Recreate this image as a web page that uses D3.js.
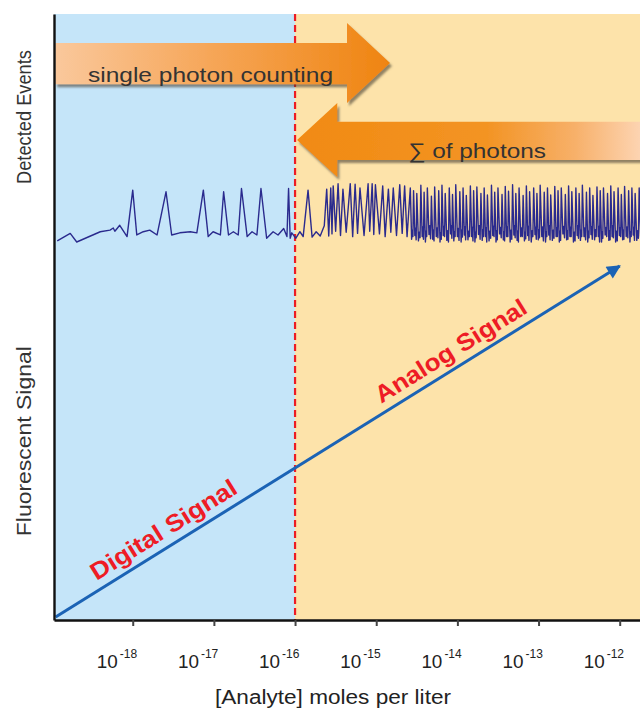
<!DOCTYPE html>
<html><head><meta charset="utf-8">
<script src="https://cdn.jsdelivr.net/npm/d3@7"></script>
<style>body{margin:0;background:#fff;} svg{display:block;font-family:"Liberation Sans",Arial,sans-serif;}</style>
</head><body><svg id="c" width="640" height="711"></svg>
<script>
// ---------- data ----------
const tickExponents = [-18, -17, -16, -15, -14, -13, -12];
const xDomainLog = [-18.97, -11.75];
const regionSplit = -16;               // digital | analog boundary (log10 mol/L)
const signalLine = [[-18.95, 0.05], [-12.0, 5.9]];   // [log10 conc, fluorescent signal]
const digitalLabel = { text: "Digital Signal", at: -17.51 };
const analogLabel  = { text: "Analog Signal",  at: -13.97 };
const arrowTexts = ["single photon counting", "\u2211 of photons"];
const axisTitles = { x: "[Analyte] moles per liter", yTop: "Detected Events", yBottom: "Fluorescent Signal" };
// detected-events trace: [log10 conc, relative event height]
const traceBlue = [
 [-18.93,0.02],[-18.77,0.16],[-18.69,0.0],[-18.40,0.19],[-18.28,0.22],[-18.24,0.26],[-18.22,0.20],[-18.16,0.31],
 [-18.07,0.10],[-18.00,0.96],[-17.95,0.13],[-17.87,0.19],[-17.79,0.22],[-17.70,0.13],[-17.59,0.93],[-17.52,0.13],
 [-17.42,0.17],[-17.29,0.19],[-17.21,0.17],[-17.13,0.96],[-17.07,0.10],[-17.01,0.19],[-16.92,0.13],[-16.88,0.93],
 [-16.82,0.13],[-16.76,0.19],[-16.70,0.13],[-16.66,0.99],[-16.59,0.10],[-16.53,0.19],[-16.47,0.13],[-16.42,0.99],
 [-16.35,0.07],[-16.27,0.19],[-16.21,0.13],[-16.14,0.25],[-16.10,0.10],[-16.08,0.99],[-16.06,0.07],[-16.04,0.17],
 [-15.99,0.07]
];
const traceSparse = [
 [-15.94,0.19],[-15.90,0.10],[-15.84,0.96],[-15.79,0.09],[-15.74,0.19],[-15.69,0.11],[-15.64,0.30],[-15.61,0.98],
 [-15.585,0.11],[-15.56,1.0],[-15.545,0.15],[-15.53,1.04],[-15.50,0.2],[-15.47,1.08],[-15.44,0.12],[-15.41,0.98],
 [-15.37,0.18],[-15.32,1.08],[-15.29,0.1],[-15.26,1.07],[-15.23,0.16],[-15.20,1.0],[-15.15,0.12],[-15.10,1.08],
 [-15.08,0.2],[-15.05,1.08],[-15.03,0.14],[-15.01,1.06],[-14.96,0.15],[-14.92,1.04],[-14.89,0.1],[-14.85,0.98],
 [-14.82,0.18],[-14.79,1.0],[-14.75,0.12],[-14.71,1.06],[-14.68,0.16],[-14.65,1.04],[-14.62,0.1]
];
// dense region, one row per spike: [log10 conc of spike, peak, valley, small bump, valley]
const traceDense = [
 [-14.58,1.0,0.05,0.22,0.1],[-14.54,0.95,0.12,0.25,0.04],[-14.50,0.9,0.02,0.18,0.08],[-14.45,1.05,0.1,0.28,0.05],
 [-14.41,0.92,0.0,0.2,0.1],[-14.37,1.0,0.14,0.3,0.06],[-14.32,0.85,0.05,0.22,0.02],[-14.28,1.02,0.1,0.26,0.08],
 [-14.23,0.95,0.0,0.17,0.05],[-14.19,1.05,0.12,0.29,0.1],[-14.15,0.9,0.03,0.21,0.0],[-14.10,1.0,0.15,0.3,0.07],
 [-14.06,0.88,0.02,0.19,0.1],[-14.02,1.06,0.1,0.25,0.03],[-13.97,0.93,0.0,0.22,0.09],[-13.93,1.0,0.13,0.28,0.04],
 [-13.89,0.86,0.04,0.2,0.1],[-13.84,1.04,0.1,0.27,0.02],[-13.80,0.95,0.0,0.18,0.08],[-13.76,1.02,0.14,0.3,0.05],
 [-13.71,0.9,0.03,0.23,0.1],[-13.67,1.0,0.1,0.26,0.0],[-13.63,0.87,0.02,0.2,0.07],[-13.58,1.05,0.12,0.29,0.1],
 [-13.54,0.92,0.0,0.21,0.04],[-13.50,1.0,0.15,0.27,0.08],[-13.45,0.88,0.04,0.19,0.02],[-13.41,1.03,0.1,0.28,0.1],
 [-13.37,0.94,0.0,0.22,0.05],[-13.32,1.06,0.13,0.3,0.08],[-13.28,0.9,0.03,0.2,0.0],[-13.24,1.0,0.1,0.26,0.1],
 [-13.19,0.86,0.02,0.18,0.06],[-13.15,1.04,0.12,0.29,0.03],[-13.11,0.93,0.0,0.21,0.1],[-13.06,1.0,0.14,0.27,0.05],
 [-13.02,0.9,0.04,0.23,0.08],[-12.98,1.05,0.1,0.28,0.02],[-12.93,0.92,0.0,0.19,0.1],[-12.89,1.0,0.13,0.3,0.04],
 [-12.85,0.87,0.03,0.22,0.07],[-12.80,1.03,0.1,0.26,0.1],[-12.76,0.95,0.0,0.2,0.03],[-12.72,1.0,0.15,0.29,0.08],
 [-12.67,0.88,0.04,0.21,0.05],[-12.63,1.04,0.1,0.27,0.1],[-12.59,0.93,0.0,0.18,0.02],[-12.54,1.0,0.12,0.3,0.07],
 [-12.50,0.9,0.03,0.22,0.1],[-12.46,1.05,0.1,0.26,0.04],[-12.41,0.92,0.0,0.2,0.08],[-12.37,1.0,0.14,0.28,0.05],
 [-12.33,0.86,0.04,0.23,0.1],[-12.28,1.02,0.1,0.29,0.0],[-12.24,0.95,0.0,0.19,0.07],[-12.20,1.0,0.13,0.27,0.1],
 [-12.15,0.9,0.03,0.21,0.04],[-12.11,1.04,0.1,0.3,0.08],[-12.07,0.93,0.0,0.2,0.02],[-12.02,1.0,0.12,0.26,0.1],
 [-11.98,0.88,0.04,0.22,0.05],[-11.94,1.03,0.1,0.28,0.08],[-11.89,0.95,0.0,0.19,0.1],[-11.85,1.0,0.13,0.27,0.03],
 [-11.81,0.9,0.03,0.21,0.07],[-11.76,1.0,0.1,0.25,0.05]
];

// ---------- scales ----------
const plotL = 54, plotR = 640, plotT = 13, plotB = 620;
const svg = d3.select("#c");
const x = d3.scaleLog().domain(xDomainLog.map(v => Math.pow(10, v))).range([plotL, plotR]);
const xl = v => x(Math.pow(10, v));
const ySig = d3.scaleLinear().domain([0, 10]).range([plotB, plotT + 7]);
const yU = d3.scaleLinear().domain([0, 1]).range([plotB, plotT + 1]);   // layout fraction for annotations
const yT = d3.scaleLinear().domain([0, 1]).range([242, 188]);           // detected events trace

// ---------- defs ----------
const defs = svg.append("defs");
const flt = defs.append("filter").attr("id", "sh").attr("x", "-10%").attr("y", "-20%").attr("width", "130%").attr("height", "160%");
flt.append("feDropShadow").attr("dx", 2).attr("dy", 3).attr("stdDeviation", 1).attr("flood-color", "#4a4030").attr("flood-opacity", 0.6);
const blur = defs.append("filter").attr("id", "soft");
blur.append("feGaussianBlur").attr("stdDeviation", 0.35);

function grad(id, x1, x2, stops) {
  const g = defs.append("linearGradient").attr("id", id).attr("gradientUnits", "userSpaceOnUse")
    .attr("x1", x1).attr("x2", x2).attr("y1", 0).attr("y2", 0);
  stops.forEach(s => g.append("stop").attr("offset", s[0]).attr("stop-color", s[1]));
}
const clip = defs.append("clipPath").attr("id", "plot");
clip.append("rect").attr("x", plotL).attr("y", plotT).attr("width", plotR - plotL).attr("height", plotB - plotT);

// ---------- backgrounds ----------
svg.append("rect").attr("x", plotL).attr("y", yU(1)).attr("width", xl(regionSplit) - plotL).attr("height", plotB - yU(1)).attr("fill", "#c5e5f9");
svg.append("rect").attr("x", xl(regionSplit)).attr("y", yU(1)).attr("width", plotR - xl(regionSplit)).attr("height", plotB - yU(1)).attr("fill", "#fde3aa");

// red dashed boundary
svg.append("line").attr("x1", xl(regionSplit)).attr("x2", xl(regionSplit)).attr("y1", yU(1)).attr("y2", plotB)
  .attr("stroke", "#ec1c24").attr("stroke-width", 2.2).attr("stroke-dasharray", "7,4");

// ---------- trace ----------
const densePts = [];
traceDense.forEach((r, i) => {
  const nxt = i < traceDense.length - 1 ? traceDense[i + 1][0] : r[0] + 0.043;
  const g = nxt - r[0];
  densePts.push([r[0], r[1]], [r[0] + 0.4 * g, r[2]], [r[0] + 0.6 * g, r[3]], [r[0] + 0.8 * g, r[4]]);
});
const trace = traceBlue.concat(traceSparse, densePts);
svg.append("g").attr("clip-path", "url(#plot)").append("path").datum(trace)
  .attr("d", d3.line().x(d => xl(d[0])).y(d => yT(d[1])))
  .attr("filter", "url(#soft)")
  .attr("fill", "none").attr("stroke", "#2b2b8e").attr("stroke-width", 1.4).attr("stroke-linejoin", "round");

// ---------- signal line ----------
defs.append("marker").attr("id", "ah").attr("viewBox", "0 0 10 10").attr("refX", 9).attr("refY", 5)
  .attr("markerWidth", 5.5).attr("markerHeight", 4.6).attr("markerUnits", "strokeWidth").attr("orient", "auto")
  .append("path").attr("d", "M0,0 L10,5 L0,10 Z").attr("fill", "#1b63b5");
svg.append("path").datum(signalLine)
  .attr("d", d3.line().x(d => xl(d[0])).y(d => ySig(d[1])))
  .attr("stroke", "#1b63b5").attr("stroke-width", 3).attr("fill", "none").attr("marker-end", "url(#ah)");

const p0 = [xl(signalLine[0][0]), ySig(signalLine[0][1])], p1 = [xl(signalLine[1][0]), ySig(signalLine[1][1])];
const ang = Math.atan2(p1[1] - p0[1], p1[0] - p0[0]) * 180 / Math.PI;
function lineLabel(lbl, len) {
  const t = (lbl.at - signalLine[0][0]) / (signalLine[1][0] - signalLine[0][0]);
  const s = signalLine[0][1] + t * (signalLine[1][1] - signalLine[0][1]);
  svg.append("text").attr("transform", `translate(${xl(lbl.at)},${ySig(s)}) rotate(${ang})`)
    .attr("y", -9).attr("text-anchor", "middle").attr("font-size", 24).attr("font-weight", "bold")
    .attr("fill", "#ee1c25").attr("textLength", len).attr("lengthAdjust", "spacingAndGlyphs").text(lbl.text);
}
lineLabel(digitalLabel, 168);
lineLabel(analogLabel, 174);

// ---------- arrows ----------
function arrow(id, pts, x1, x2, stops) {
  grad(id, x1, x2, stops);
  svg.append("path").attr("d", d3.line().x(d => xl(d[0])).y(d => yU(d[1]))(pts) + "Z")
    .attr("fill", `url(#${id})`).attr("filter", "url(#sh)");
}
const a1 = { l: -18.955, hb: -15.36, tip: -14.83, bt: 0.952, bb: 0.884, ht: 0.985, hbo: 0.853, ty: 0.919 };
arrow("g1", [[a1.l, a1.bt], [a1.hb, a1.bt], [a1.hb, a1.ht], [a1.tip, a1.ty], [a1.hb, a1.hbo], [a1.hb, a1.bb], [a1.l, a1.bb]],
  xl(a1.l), xl(a1.tip), [[0, "#fac89c"], [0.45, "#f6a75a"], [1, "#ef8410"]]);
const a2 = { r: -11.7, hb: -15.48, tip: -15.975, bt: 0.822, bb: 0.759, ht: 0.853, hbo: 0.731, ty: 0.792 };
arrow("g2", [[a2.r, a2.bt], [a2.hb, a2.bt], [a2.hb, a2.ht], [a2.tip, a2.ty], [a2.hb, a2.hbo], [a2.hb, a2.bb], [a2.r, a2.bb]],
  xl(a2.tip), xl(a2.r), [[0, "#f18a12"], [0.55, "#f39424"], [0.8, "#f7b069"], [1, "#fdd6b6"]]);

svg.append("text").attr("x", 88).attr("y", yU(0.886) - 1).attr("font-size", 21).attr("fill", "#333")
  .attr("textLength", 245).attr("lengthAdjust", "spacingAndGlyphs").text(arrowTexts[0]);
svg.append("text").attr("x", 408).attr("y", yU(0.762)).attr("font-size", 21).attr("fill", "#333")
  .attr("textLength", 138).attr("lengthAdjust", "spacingAndGlyphs").text(arrowTexts[1]);

// ---------- axes ----------
const xAxis = svg.append("g").attr("transform", `translate(0,${plotB})`)
  .call(d3.axisBottom(x).tickValues(tickExponents.map(e => Math.pow(10, e))).tickFormat("").tickSize(6).tickSizeOuter(0));
xAxis.select(".domain").attr("stroke", "#111").attr("stroke-width", 2.6);
xAxis.selectAll(".tick line").attr("stroke", "#444").attr("stroke-width", 2);
const yAxis = svg.append("g").attr("transform", `translate(${plotL},0)`)
  .call(d3.axisLeft(yU).tickValues([]).tickSizeOuter(0));
yAxis.select(".domain").attr("stroke", "#111").attr("stroke-width", 2.4);

tickExponents.forEach(e => {
  const t = svg.append("text").attr("x", xl(e) - 36).attr("y", 668).attr("fill", "#222");
  t.append("tspan").attr("font-size", 19).attr("textLength", 21).attr("lengthAdjust", "spacingAndGlyphs").text("10");
  t.append("tspan").attr("font-size", 12).attr("dx", 2).attr("dy", -10).text(String(e));
});
svg.append("text").attr("x", 333).attr("y", 704).attr("text-anchor", "middle").attr("font-size", 20).attr("fill", "#222")
  .attr("textLength", 236).attr("lengthAdjust", "spacingAndGlyphs").text(axisTitles.x);
svg.append("text").attr("transform", `translate(31,${yU(0.83)}) rotate(-90)`).attr("text-anchor", "middle")
  .attr("font-size", 20).attr("fill", "#333").attr("textLength", 134).attr("lengthAdjust", "spacingAndGlyphs").text(axisTitles.yTop);
svg.append("text").attr("transform", `translate(31,${yU(0.295)}) rotate(-90)`).attr("text-anchor", "middle")
  .attr("font-size", 20).attr("fill", "#333").attr("textLength", 190).attr("lengthAdjust", "spacingAndGlyphs").text(axisTitles.yBottom);
</script></body></html>
